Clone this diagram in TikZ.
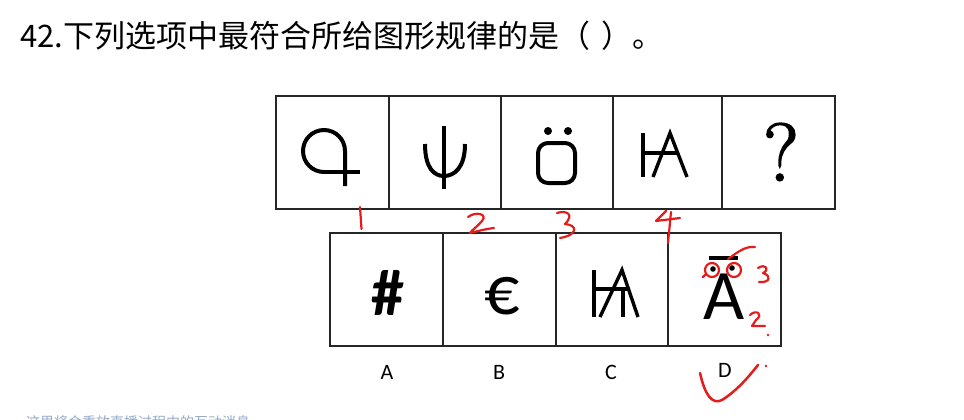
\documentclass[tikz,border=0pt]{standalone}
\usepackage{fontspec}
\setmainfont{Carlito}
\newfontfamily\cjk{Noto Sans CJK SC}
\newfontfamily\lmr[FakeBold=2]{Latin Modern Roman}
\definecolor{inkred}{RGB}{228,28,28}
\definecolor{msggray}{RGB}{150,170,200}
\begin{document}
\begin{tikzpicture}[x=1pt,y=-1pt,
  cellbox/.style={draw=black!85, line width=1.8pt, inner sep=0pt, minimum height=113pt},
  glyph/.style={line width=4pt, line join=round, line cap=butt},
  thinglyph/.style={line width=3.4pt, line join=miter, line cap=butt},
  redink/.style={draw=inkred, line width=2.2pt, line cap=round, line join=round},
  optlabel/.style={font=\fontsize{22}{22}\selectfont, inner sep=0pt}]
\clip (0,0) rectangle (964,420);
\fill[white] (0,0) rectangle (964,420);

% title
\node[anchor=base west, inner sep=0pt, font=\cjk\fontsize{31}{31}\selectfont] (title) at (20,48) {42.下列选项中最符合所给图形规律的是（\hspace{0.35em}）。};

% top row cells
\node[cellbox, minimum width=113pt] (t1) at (332.5,152.5) {};
\node[cellbox, minimum width=112pt] (t2) at (445,152.5) {};
\node[cellbox, minimum width=112pt] (t3) at (557,152.5) {};
\node[cellbox, minimum width=109pt] (t4) at (667.5,152.5) {};
\node[cellbox, minimum width=113pt] (t5) at (778.5,152.5) {};

% bottom row cells
\node[cellbox, minimum width=113pt] (b1) at (386.5,289.5) {};
\node[cellbox, minimum width=113pt] (b2) at (499.5,289.5) {};
\node[cellbox, minimum width=112pt] (b3) at (612,289.5) {};
\node[cellbox, minimum width=113pt] (b4) at (724.5,289.5) {};

% glyph 1: loop
\draw[glyph] (324,172) -- (360,172);
\draw[glyph] (324,172) arc[start angle=90, end angle=360, radius=21] -- (345,186);
% glyph 2: psi
\draw[glyph] (444,126) -- (444,189);
\draw[glyph] (425,144) .. controls (425,168) and (434,176) .. (444,176) .. controls (454,176) and (465,168) .. (465,144);
% glyph 3: O with dots
\draw[glyph, rounded corners=10pt] (538,143) rectangle (575,183);
\fill (548,131) circle[radius=4];
\fill (568,131) circle[radius=4];
% glyph 4: bar + A
\draw[thinglyph] (643,133) -- (643,177);
\draw[thinglyph] (643,153) -- (678,153);
\draw[thinglyph] (653,177) -- (670,133) -- (687,177);
% glyph 5: question mark
\node[inner sep=0pt, font=\lmr\fontsize{82}{82}\selectfont] (qm) at (781,152) {?};

% option A
\node[inner sep=0pt, font=\bfseries\fontsize{66}{66}\selectfont, anchor=base] (hash) at (388,315) {\#};
% option B
\node[inner sep=0pt, font=\fontsize{70}{70}\selectfont, anchor=base] (euro) at (502,314) {€};
% option C
\draw[thinglyph] (594,270) -- (594,317);
\draw[thinglyph] (594,289) -- (628,289);
\draw[thinglyph] (600,317) -- (622,270) -- (638,317);
\draw[thinglyph] (623,289) -- (623,317);
% option D
\node[inner sep=0pt, font=\fontsize{71}{71}\selectfont, anchor=base] (abar) at (724,319) {A};
\draw[line width=3.2pt] (709,258) -- (738,258);
\fill (713,269) circle[radius=2.8];
\fill (732,268) circle[radius=2.8];

% option labels
\node[optlabel] (la) at (387,372) {A};
\node[optlabel] (lb) at (499,372) {B};
\node[optlabel] (lc) at (611,372) {C};
\node[optlabel] (ld) at (725,370) {D};

% red handwriting
\draw[redink] (360,207) -- (361.5,229);
\draw[redink] (468,217) .. controls (476,211) and (488,214) .. (482,221) .. controls (478,226) and (472,230) .. (470,233) .. controls (478,231) and (486,229) .. (494,228);
\draw[redink] (557,213) .. controls (566,210) and (575,214) .. (565,224) .. controls (578,225) and (578,235) .. (560,238);
\draw[redink] (666,211) -- (656,221) -- (680,218);
\draw[redink] (671,212) -- (668,243);
\draw[redink] (712,270) circle[radius=7];
\draw[redink] (734,270) circle[radius=7];
\draw[redink] (705,275) -- (703,277);
\draw[redink] (728,259) .. controls (738,252) and (745,246) .. (755,247);
\draw[redink] (758,268) .. controls (766,263) and (770,270) .. (763,273) .. controls (772,276) and (770,283) .. (759,282);
\draw[redink] (750,315) .. controls (756,309) and (764,314) .. (756,320) -- (752,326) -- (765,326);
\fill[inkred] (768,335) circle[radius=1.3];
\draw[redink, line width=2.5pt] (700,373) .. controls (705,395) and (712,405) .. (722,400) .. controls (738,390) and (750,375) .. (758,365);
\fill[inkred] (766,366) circle[radius=1.4];

% cut-off message line
\node[anchor=base west, inner sep=0pt, text=msggray, font=\cjk\fontsize{14}{14}\selectfont] (msg) at (26,427) {这里将会重放直播过程中的互动消息};
\end{tikzpicture}
\end{document}
